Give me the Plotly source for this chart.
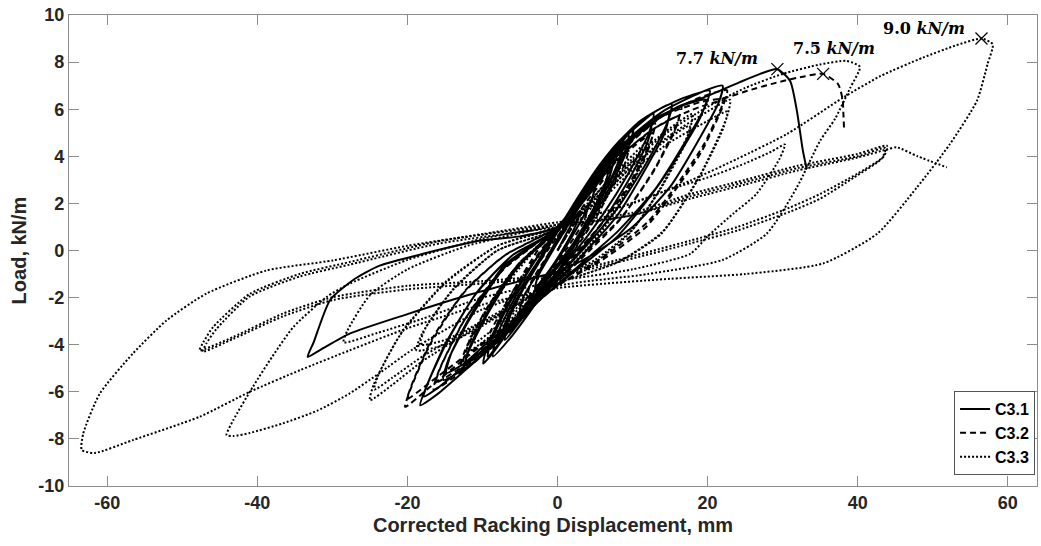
import plotly.graph_objects as go

# Load-displacement hysteresis paths (displacement mm, load kN/m), in test order.
c31_path = [
    (0, 0), (1.5, 0.9), (3, 1.7), (2.6, 1.2), (1, 0.2), (-1, -0.8), (-3, -1.6), (-2.6, -1.1), (-1, -0.2), (0.5, 0.6),
    (3, 1.9), (5, 2.8), (4.6, 2.2), (2.5, 0.9), (0, -0.4), (-2.5, -1.5), (-5, -2.6), (-4.6, -2.0), (-2.5, -0.9), (0, 0.5),
    (3, 2.0), (6, 3.3), (7.5, 3.9), (7.0, 3.2), (4.5, 1.6), (1.5, 0.0), (-1.5, -1.3), (-4.5, -2.6), (-7.5, -3.7),
    (-7.0, -3.1), (-4.5, -1.6), (-1.5, 0.0), (0, 0.8),
    (3, 2.2), (6, 3.6), (8.5, 4.6), (10.1, 5.16), (9.6, 4.5), (7.5, 3.0), (4.5, 1.3), (1, -0.3), (-2.5, -1.7),
    (-6, -3.2), (-8.5, -4.3), (-9.9, -4.8), (-9.4, -4.1), (-7, -2.5), (-4, -0.9), (0, 0.9),
    (3, 2.1), (6, 3.5), (9.5, 4.9), (9.1, 4.3), (6.5, 2.6), (3, 0.7), (0, -0.6), (-3, -1.9), (-6.5, -3.4),
    (-9.3, -4.5), (-8.8, -3.8), (-6, -2.0), (-2.5, -0.2), (0, 0.8),
    (3, 2.4), (6, 3.8), (8.8, 4.8), (8.4, 4.0), (6, 2.3), (3, 0.6), (0, -0.9), (-3, -2.3), (-6, -3.6),
    (-8.6, -4.5), (-8.2, -3.7), (-5.5, -1.9), (-2.5, -0.4), (0, 0.9),
    (2.5, 2.0), (5, 3.1), (7, 3.9), (6.6, 3.1), (4, 1.2), (1, -0.5), (-2, -1.8), (-5, -3.0), (-7, -3.8),
    (-6.6, -3.0), (-4, -1.3), (-1, 0.4), (0, 0.9),
    (3, 2.3), (7, 4.1), (10.5, 5.3), (12.8, 5.8), (12.2, 5.0), (9.5, 3.3), (6, 1.5), (2, -0.2), (-2, -1.6),
    (-6, -3.1), (-10, -4.4), (-12.5, -5.08), (-12, -4.4), (-9.5, -2.8), (-6, -1.0), (-2, 0.4), (0, 1.0),
    (3, 2.1), (7, 3.8), (10.5, 4.9), (12.5, 5.3), (12.0, 4.6), (9.5, 3.0), (6, 1.2), (2, -0.4), (-2, -1.7),
    (-6, -3.0), (-10, -4.1), (-12.2, -4.7), (-11.7, -4.1), (-9.3, -2.6), (-6, -0.9), (-2, 0.3), (0, 0.9),
    (3, 2.4), (7, 4.2), (11, 5.5), (15.2, 6.22), (14.6, 5.4), (12, 3.8), (8, 1.8), (3, -0.1), (-2, -1.8),
    (-7, -3.5), (-11, -4.7), (-15.2, -5.5), (-14.5, -4.6), (-11.5, -2.8), (-7, -0.7), (-2, 0.5), (0, 1.0),
    (3, 2.2), (7, 3.9), (11, 5.1), (14.8, 5.8), (14.3, 5.0), (11.8, 3.5), (8, 1.5), (3, -0.3), (-2, -1.9),
    (-7, -3.4), (-11, -4.5), (-14.8, -5.2), (-14.2, -4.4), (-11.3, -2.6), (-7, -0.6), (-2, 0.5), (0, 0.9),
    (3, 2.4), (8, 4.5), (13, 5.9), (17, 6.5), (20.3, 6.78), (19.5, 6.0), (17, 4.6), (13, 2.6), (8, 0.8),
    (3, -0.6), (-2, -2.0), (-7, -3.6), (-12, -5.0), (-16, -6.1), (-18.3, -6.57), (-17.5, -5.8), (-15, -4.0),
    (-11, -1.9), (-6, -0.2), (0, 0.9),
    (3, 2.3), (8, 4.3), (13, 5.6), (17, 6.2), (19.8, 6.4), (19.1, 5.7), (16.6, 4.3), (12.6, 2.4), (8, 0.6),
    (3, -0.7), (-2, -2.0), (-7, -3.5), (-12, -4.8), (-15.8, -5.8), (-17.8, -6.2), (-17.1, -5.5), (-14.6, -3.8),
    (-10.8, -1.8), (-6, -0.2), (0, 0.9),
    (4, 2.6), (9, 4.6), (14, 5.9), (19, 6.7), (22, 7.0), (21.5, 6.3), (19, 4.8), (15, 2.7), (10, 1.0),
    (4, -0.3), (0, -0.9), (-5, -1.3), (-12, -1.9), (-20, -2.7), (-27.7, -3.53), (-31.5, -4.2), (-33.3, -4.52),
    (-32.5, -3.9), (-30.3, -2.1), (-27, -1.2), (-23.7, -0.64), (-17.9, -0.14), (-10.3, 0.42), (-5, 0.6), (0, 1.0),
    (4, 2.7), (8, 4.2), (12, 5.3), (16, 6.1), (20.3, 6.6), (24.3, 7.15), (27, 7.5), (29.3, 7.7),
    (31, 7.2), (31.9, 5.93), (32.7, 4.24), (33.2, 3.47),
]

c32_path = [
    (0, 0), (2, 1.0), (4, 1.9), (3.6, 1.3), (1.5, 0.2), (-1, -0.9), (-4, -2.0), (-3.6, -1.4), (-1.5, -0.3), (0, 0.4),
    (3, 1.7), (6.5, 3.1), (6.1, 2.4), (3.5, 0.9), (0, -0.7), (-3.5, -2.0), (-6.5, -3.1), (-6.0, -2.4), (-3.5, -1.0), (0, 0.6),
    (3, 1.9), (6.5, 3.4), (9.5, 4.4), (9.0, 3.7), (6, 2.0), (2.5, 0.4), (-1, -1.0), (-5, -2.6), (-9.5, -4.2),
    (-9.0, -3.5), (-6, -1.8), (-2, 0.1), (0, 0.8),
    (3, 2.1), (6, 3.4), (8.5, 4.2), (8.1, 3.4), (5.5, 1.6), (2, -0.1), (-1.5, -1.5), (-5, -2.9), (-8.5, -4.0),
    (-8.1, -3.2), (-5.5, -1.5), (-2, 0.3), (0, 0.9),
    (2.5, 1.8), (5, 2.9), (7, 3.6), (6.6, 2.8), (4, 1.0), (1, -0.6), (-2, -1.9), (-5, -3.0), (-7, -3.6),
    (-6.6, -2.8), (-4, -1.2), (-1, 0.3), (0, 0.8),
    (3, 2.0), (7, 3.7), (10.5, 4.8), (13, 5.4), (12.4, 4.6), (9.5, 2.8), (5.5, 1.0), (1, -0.6), (-4, -2.4),
    (-8.5, -3.9), (-13, -5.1), (-12.4, -4.3), (-9.5, -2.5), (-5, -0.5), (0, 0.9),
    (3, 1.9), (7, 3.5), (10.5, 4.5), (12.7, 5.0), (12.1, 4.3), (9.3, 2.6), (5.3, 0.9), (1, -0.7), (-4, -2.4),
    (-8.5, -3.8), (-12.6, -4.8), (-12.0, -4.1), (-9.2, -2.4), (-5, -0.5), (0, 0.8),
    (3.5, 2.2), (8, 4.1), (12.5, 5.4), (16.5, 6.1), (15.8, 5.3), (13, 3.5), (8.5, 1.4), (3, -0.3), (-3, -2.2),
    (-8, -3.9), (-12.5, -5.1), (-16.5, -5.9), (-15.8, -5.1), (-12.5, -3.0), (-7.5, -0.9), (-2, 0.5), (0, 1.0),
    (3.5, 2.1), (8, 3.9), (12.5, 5.1), (16.2, 5.7), (15.5, 5.0), (12.7, 3.3), (8.3, 1.3), (3, -0.4), (-3, -2.3),
    (-8, -3.9), (-12.5, -4.9), (-16.2, -5.6), (-15.5, -4.9), (-12.3, -2.9), (-7.4, -0.8), (-2, 0.5), (0, 0.9),
    (4, 2.4), (9, 4.4), (14, 5.7), (19, 6.5), (22.6, 6.8), (22, 6.2), (19.5, 4.5), (16.3, 2.97), (12, 1.2),
    (6, -0.3), (0, -1.5), (-6, -3.0), (-12, -4.5), (-17, -5.8), (-20.3, -6.64), (-19.6, -5.9), (-17, -4.0),
    (-12.5, -1.8), (-7, -0.2), (0, 1.0),
    (4, 2.3), (9, 4.2), (14, 5.4), (19, 6.1), (22.2, 6.35), (21.6, 5.8), (19.2, 4.2), (16, 2.7), (11.8, 1.0),
    (6, -0.4), (0, -1.5), (-6, -3.0), (-12, -4.4), (-17, -5.6), (-20, -6.3), (-19.3, -5.6), (-16.8, -3.8),
    (-12.3, -1.7), (-7, -0.2), (0, 1.0),
    (4, 2.5), (9, 4.5), (14, 5.7), (19, 6.3), (22.6, 6.5), (25, 6.75), (29.2, 7.13), (33, 7.4), (35.4, 7.5),
    (37.4, 7.06), (38, 6.4), (38.1, 5.8), (38.2, 5.08),
]

c33_path = [
    (0, 0), (3, 1.5), (6, 2.7), (8, 3.3), (7, 2.5), (4, 0.9), (0, -0.6), (-3, -1.7), (-6, -2.6), (-8, -3.1),
    (-7, -2.3), (-4, -0.8), (0, 0.6),
    (4, 2.0), (8, 3.4), (12, 4.6), (11.5, 3.8), (8, 1.9), (4, 0.1), (0, -1.2), (-4, -2.3), (-8, -3.4),
    (-12, -4.3), (-11.5, -3.6), (-8, -1.9), (-3, 0.0), (0, 0.8),
    (4, 1.8), (8, 3.1), (11, 4.0), (10.5, 3.2), (7, 1.3), (3, -0.3), (0, -1.1), (-4, -2.2), (-8, -3.2),
    (-11, -3.9), (-10.5, -3.1), (-7, -1.3), (-3, 0.1), (0, 0.8),
    (5, 2.2), (10, 3.9), (15, 5.2), (18, 5.8), (17.5, 5.0), (14, 2.8), (10, 0.9), (5, -0.4), (0, -1.2),
    (-5, -2.2), (-10, -3.2), (-15, -4.0), (-18.8, -4.24), (-18, -3.5), (-14, -1.7), (-8, 0.0), (0, 0.9),
    (5, 2.0), (10, 3.6), (15, 4.8), (17.6, 5.3), (17.1, 4.6), (13.7, 2.6), (9.8, 0.8), (5, -0.5), (0, -1.2),
    (-5, -2.1), (-10, -3.0), (-15, -3.8), (-18.3, -4.0), (-17.6, -3.3), (-13.8, -1.6), (-8, 0.0), (0, 0.9),
    (5, 2.0), (10, 3.6), (15, 4.9), (20, 5.9), (23, 6.4), (22.5, 5.6), (19, 3.2), (14, 0.8), (8, -0.5),
    (0, -1.4), (-6, -2.4), (-12, -3.5), (-18, -4.7), (-22, -5.7), (-25, -6.36), (-24.5, -5.7), (-21, -3.6),
    (-15, -1.4), (-8, 0.2), (0, 1.0),
    (5, 1.9), (10, 3.4), (15, 4.6), (20, 5.5), (22.6, 5.9), (22.1, 5.2), (18.7, 3.0), (13.8, 0.7), (8, -0.5),
    (0, -1.4), (-6, -2.4), (-12, -3.4), (-18, -4.5), (-22, -5.4), (-24.4, -5.9), (-23.9, -5.3), (-20.6, -3.4),
    (-14.8, -1.3), (-8, 0.2), (0, 1.0),
    (5, 2.2), (10, 3.8), (15, 5.1), (20, 6.1), (25, 6.9), (30, 7.5), (35, 7.9), (38.5, 8.05), (40.3, 7.8),
    (39, 6.9), (37, 5.6), (35, 4.66), (31.9, 2.68), (27.9, 0.72), (22, -0.4), (12, -1.0), (0, -1.5),
    (-10, -2.5), (-19.3, -4.2), (-23.7, -5.2), (-27.7, -6.07), (-32, -6.8), (-36.6, -7.34), (-41, -7.75),
    (-43.2, -7.88), (-44.1, -7.84), (-43.2, -7.2), (-40.6, -5.79), (-38, -4.5), (-35.2, -3.25), (-30.8, -1.98),
    (-27.7, -1.41), (-20, -0.4), (-10, 0.5), (0, 1.1),
    (8, 1.8), (15, 2.6), (20, 3.1), (25, 3.7), (28.5, 4.2), (30.3, 4.5), (29.6, 3.9), (26.5, 2.4), (23.4, 1.56),
    (20, 0.6), (17.7, -0.14), (10, -0.8), (0, -1.3), (-10, -2.0), (-18, -2.9), (-24, -3.5), (-28.5, -3.9),
    (-28, -3.4), (-25, -1.9), (-20, -0.8), (-12, 0.2), (0, 1.1),
    (10, 2.0), (17.7, 2.97), (24, 3.9), (30.6, 4.95), (38.1, 6.5), (43, 7.4), (48.7, 8.19), (53, 8.7),
    (56.5, 9.0), (58.0, 8.76), (57.3, 7.9), (55.9, 6.36), (52.3, 4.52), (47.9, 2.68), (42.6, 0.71),
    (35.4, -0.55), (25, -1.0), (15, -1.2), (0, -1.6), (-10, -2.3), (-20, -3.3), (-27.7, -4.24), (-34.3, -5.08),
    (-41, -6.0), (-47.7, -7.06), (-56.6, -8.05), (-61.7, -8.6), (-63.4, -8.47), (-63.2, -7.77), (-61, -6.08),
    (-56.6, -4.38), (-52.1, -2.97), (-46.8, -1.83), (-38.8, -0.85), (-29.9, -0.42), (-20, 0.2), (-10, 0.7), (0, 1.2),
    (10, 1.6), (17.7, 2.4), (25, 3.0), (32, 3.6), (40, 4.1), (43.9, 4.45), (43.5, 4.0), (39.9, 3.25), (35, 2.4),
    (31, 1.83), (24, 1.0), (17.7, 0.42), (8, -0.4), (0, -1.0), (-10, -1.3), (-20, -1.5), (-29.9, -1.98),
    (-36.6, -2.68), (-43.2, -3.67), (-47.7, -4.24), (-47.2, -3.9), (-45.9, -3.25), (-41, -1.84), (-34.3, -0.99),
    (-27.7, -0.49), (-15.7, 0.4), (0, 1.1),
    (10, 1.5), (17.7, 2.3), (25, 2.9), (32, 3.5), (40, 4.0), (43.7, 4.35), (43.2, 3.9), (39.5, 3.1), (35, 2.2),
    (31, 1.65), (24, 0.85), (17.7, 0.3), (8, -0.5), (0, -1.1), (-10, -1.4), (-20, -1.65), (-29.9, -2.1),
    (-36.6, -2.8), (-43.2, -3.75), (-47.3, -4.3), (-46.8, -3.95), (-45.5, -3.35), (-41, -1.95), (-34.3, -1.1),
    (-27.7, -0.6), (-15.7, 0.3), (0, 1.0),
    (10, 1.5), (17.7, 2.2), (25, 2.8), (32, 3.4), (40, 3.95), (44, 4.3), (45.2, 4.38), (48, 4.0), (51.9, 3.53),
]

specimens = ["C3.1", "C3.2", "C3.3"]
line_dashes = ["solid", "6px,4px", "2px,2px"]

# Peak loads marked on the curves
peak_disp = [29.3, 35.4, 56.5]
peak_load = [7.7, 7.5, 9.0]

x_ticks = [-60, -40, -20, 0, 20, 40, 60]
y_ticks = [-10, -8, -6, -4, -2, 0, 2, 4, 6, 8, 10]

FONT = "Liberation Sans"
TEXT = "#262626"
AXIS = "#8c8c8c"

fig = go.Figure()
for name, path, dash in zip(specimens, [c31_path, c32_path, c33_path], line_dashes):
    fig.add_trace(go.Scatter(
        x=[p[0] for p in path], y=[p[1] for p in path], mode="lines", name=name,
        line=dict(color="black", width=2, dash=dash, shape="spline", smoothing=0.6),
    ))

fig.add_trace(go.Scatter(
    x=peak_disp, y=peak_load, mode="markers", showlegend=False,
    marker=dict(symbol="x-thin", size=12, color="black", line=dict(color="black", width=1.3)),
))

# Peak labels: (x shift, y shift, anchor) relative to each marker
label_offsets = [(-17, 11, "right"), (11, 25, "center"), (-14, 10, "right")]
for px, py, (dx, dy, anchor) in zip(peak_disp, peak_load, label_offsets):
    fig.add_annotation(
        x=px, y=py, xref="x", yref="y", showarrow=False,
        text=f"<b>{py:.1f} <i>kN/m</i></b>", xanchor=anchor, yanchor="middle",
        xshift=dx, yshift=dy,
        font=dict(family="DejaVu Serif", size=16, color="black"),
    )

axis_common = dict(
    showgrid=False, zeroline=False, showline=True, linecolor=AXIS, linewidth=1.2,
    mirror="ticks", ticks="inside", ticklen=10, tickwidth=1, tickcolor=AXIS,
    tickfont=dict(family=FONT, size=18, color=TEXT, weight="bold"),
)

fig.update_layout(
    width=1041, height=546,
    margin=dict(l=69, r=4, t=15, b=60),
    paper_bgcolor="white", plot_bgcolor="white",
    font=dict(family=FONT, color=TEXT),
    xaxis=dict(
        range=[-65.1, 63.9], tickvals=x_ticks, ticktext=[str(v) for v in x_ticks],
        title=dict(text="Corrected Racking Displacement, mm", standoff=6,
                   font=dict(family=FONT, size=20, color=TEXT, weight="bold")),
        **axis_common,
    ),
    yaxis=dict(
        range=[-10, 10], tickvals=y_ticks, ticktext=[str(v) for v in y_ticks],
        title=dict(text="Load, kN/m", standoff=6,
                   font=dict(family=FONT, size=20, color=TEXT, weight="bold")),
        **axis_common,
    ),
    legend=dict(
        x=0.998, y=0.023, xanchor="right", yanchor="bottom",
        bgcolor="white", bordercolor="#555555", borderwidth=1,
        font=dict(family=FONT, size=16, color="black", weight="bold"),
        itemwidth=30, tracegroupgap=0,
    ),
    showlegend=True,
)

fig.write_html("out.html")
